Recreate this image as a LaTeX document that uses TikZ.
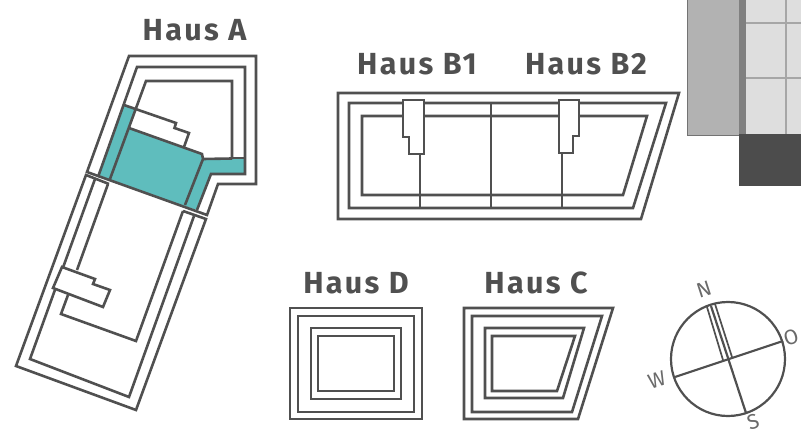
\documentclass[tikz,border=0pt]{standalone}
\usepackage{fontspec}
\setmainfont{Fira Sans}
\newfontfamily\titlefont[LetterSpace=7.5]{Fira Sans}
\definecolor{wall}{HTML}{505050}
\definecolor{tealroom}{HTML}{5FBDBD}
\tikzset{
  wallline/.style={draw=wall,line width=2.6pt,line join=miter},
  thinline/.style={draw=wall,line width=2.2pt},
  title/.style={text=wall,font=\titlefont\bfseries\fontsize{30.5}{30.5}\selectfont,inner sep=0pt,anchor=center},
  compasslabel/.style={text=wall!85,font=\fontsize{21}{21}\selectfont,inner sep=0pt,rotate=18},
}
\begin{document}
\begin{tikzpicture}[x=1pt,y=-1pt]
\useasboundingbox (0,0) rectangle (801,434);
% photo fragment
\fill[black!30] (687,0) rectangle (739,135);
\draw[black!55,line width=1pt] (687.5,0) -- (687.5,135) -- (739,135);
\fill[black!13] (746,0) rectangle (801,134);
\fill[black!50] (739,0) rectangle (746,134);
\draw[black!35,line width=1.3pt] (746,23) -- (801,23) (746,78) -- (801,78) (786,0) -- (786,134);
\fill[black!70] (739,134) rectangle (801,186);
% Haus A teal
\fill[tealroom] (124,105) -- (135,109) -- (129,128) -- (202,154) -- (203,159) -- (245,158) -- (245,174) -- (211,174) -- (197,210) -- (98,177) -- cycle;
% Haus A upper
\draw[wallline] (129,56) -- (256,56) -- (256,184) -- (218,184) -- (207,215) -- (87,172) -- cycle;
\draw[wallline] (98,177) -- (137,67) -- (245,67) -- (245,174) -- (211,174) -- (197,210);
\draw[wallline] (110,179) -- (146,81) -- (232,81) -- (232,159);
\draw[wallline] (124,105) -- (176,123) -- (174.5,128) -- (189,133) -- (184,147);
\draw[wallline] (129,128) -- (202,154) -- (203,159) -- (185,205);
\draw[wallline] (203,159) -- (232,158.5);
\draw[wallline] (232,158) -- (245,158);
% Haus A lower
\draw[wallline] (109,184) -- (86,175) -- (16,366) -- (136,410) -- (206,219) -- (183,211);
\draw[wallline] (95,179) -- (30,359) -- (129,397) -- (194,216);
\draw[wallline] (108,184) -- (77,270);
\draw[wallline] (68,295) -- (61,314) -- (136,341) -- (183,211);
\draw[wallline,fill=white] (62,267) -- (95,279) -- (93,284) -- (110,290) -- (103,307) -- (53,288) -- cycle;
% Haus B
\draw[wallline] (338,93) -- (679,93) -- (641,219) -- (338,219) -- cycle;
\draw[wallline] (349,103) -- (666,103) -- (633,208) -- (349,208) -- cycle;
\draw[wallline] (362,116) -- (647,116) -- (623,195) -- (362,195) -- cycle;
\draw[wallline] (491,103) -- (491,208);
\draw[wallline] (420,154) -- (420,208);
\draw[wallline] (562,153) -- (562,208);
\draw[wallline,fill=white] (403,100) -- (424,100) -- (424,154) -- (409,154) -- (409,137) -- (403,137) -- cycle;
\draw[wallline,fill=white] (559,100) -- (579,100) -- (579,136) -- (573,136) -- (573,153) -- (559,153) -- cycle;
% Haus D
\draw[wallline] (290,308) rectangle (422,419);
\draw[wallline] (298,316) rectangle (414,412);
\draw[wallline] (311,328) rectangle (401,399);
\draw[wallline] (318,336) rectangle (394,391);
% Haus C
\draw[wallline] (464,308) -- (613,308) -- (578,419) -- (464,419) -- cycle;
\draw[wallline] (472,316) -- (602,316) -- (572,412) -- (472,412) -- cycle;
\draw[wallline] (485,328) -- (584,328) -- (563,398) -- (485,398) -- cycle;
\draw[wallline] (492,336) -- (575,336) -- (557,391) -- (492,391) -- cycle;
% Compass
\node[circle,draw=wall,line width=2.2pt,minimum size=114pt,inner sep=0pt] (dial) at (728,359) {};
\coordinate (w) at (675,377);
\coordinate (o) at (783,341);
\coordinate (s) at (746,413);
\draw[thinline] (w) -- (o);
\draw[thinline] (711,306) -- (s);
\draw[thinline,line width=1.7pt] (707,307) -- (723,360);
\draw[thinline,line width=1.7pt] (715,304) -- (732,357);
\node[compasslabel] (lN) at (704,289) {N};
\node[compasslabel] (lO) at (791,337) {O};
\node[compasslabel] (lW) at (657,380) {W};
\node[compasslabel] (lS) at (753,422) {S};
% Titles
\node[title] (ta) at (194.5,30) {Haus A};
\node[title] (tb1) at (417,64) {Haus B1};
\node[title] (tb2) at (586,64) {Haus B2};
\node[title] (td) at (356,283) {Haus D};
\node[title] (tc) at (536,283) {Haus C};
\end{tikzpicture}
\end{document}
